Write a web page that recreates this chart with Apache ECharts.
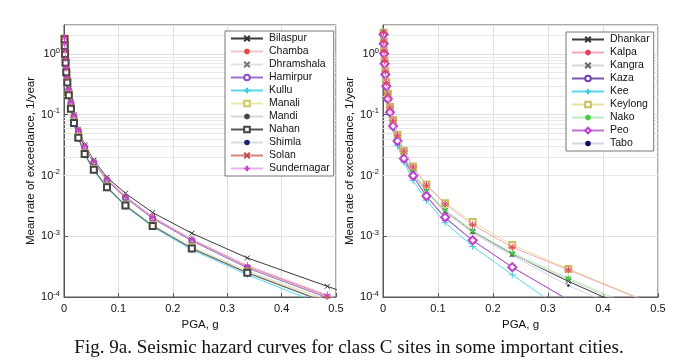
<!DOCTYPE html>
<html>
<head>
<meta charset="utf-8">
<script src="https://cdn.jsdelivr.net/npm/echarts@6/dist/echarts.min.js"></script>
<style>
html,body{margin:0;padding:0;background:#fff;}
#c{width:690px;height:361px;}
</style>
</head>
<body>
<div id="c"></div>
<script>
// PGA values (g) at which the hazard curves are evaluated
const pga = [0.001, 0.0014, 0.002, 0.0029, 0.0042, 0.0061, 0.0088, 0.0127, 0.0183, 0.0264, 0.038, 0.0548, 0.079, 0.113, 0.163, 0.235, 0.337, 0.484, 0.698];

// Left panel
const bilaspur    = [1.9, 1.5, 1.15, 0.85, 0.6, 0.42, 0.27, 0.165, 0.10, 0.058, 0.032, 0.0178, 0.0093, 0.0051, 0.00245, 0.00112, 0.00044, 0.00015, 0.000032];
const chamba      = [1.82, 1.45, 1.1, 0.82, 0.57, 0.40, 0.255, 0.157, 0.094, 0.054, 0.030, 0.0166, 0.0085, 0.0044, 0.002, 0.00086, 0.00031, 0.0001, 0.000017];
const dhramshala  = [1.77, 1.37, 1.01, 0.73, 0.505, 0.345, 0.213, 0.127, 0.074, 0.0428, 0.023, 0.0127, 0.0066, 0.0033, 0.00155, 0.00067, 0.00027, 0.00009, 0.000017];
const hamirpur    = [1.8, 1.44, 1.09, 0.8, 0.56, 0.39, 0.25, 0.154, 0.092, 0.053, 0.029, 0.0162, 0.0083, 0.0043, 0.00195, 0.00084, 0.0003, 0.000097, 0.000016];
const kullu       = [1.72, 1.33, 0.98, 0.7, 0.49, 0.33, 0.205, 0.122, 0.071, 0.041, 0.0218, 0.012, 0.0062, 0.0031, 0.00143, 0.0006, 0.000232, 0.00007, 0.000012];
const manali      = [1.78, 1.38, 1.02, 0.74, 0.51, 0.35, 0.215, 0.128, 0.075, 0.043, 0.023, 0.0128, 0.0066, 0.0033, 0.00152, 0.00066, 0.00026, 0.000088, 0.000016];
const mandi       = [1.76, 1.36, 1.01, 0.73, 0.5, 0.34, 0.212, 0.126, 0.074, 0.0425, 0.0228, 0.0126, 0.0065, 0.00325, 0.0015, 0.00064, 0.000255, 0.000082, 0.000015];
const nahan       = [1.75, 1.35, 1.0, 0.72, 0.5, 0.34, 0.21, 0.125, 0.073, 0.042, 0.0225, 0.0124, 0.0064, 0.0032, 0.00148, 0.00063, 0.00025, 0.00008, 0.000014];
const shimla      = [1.74, 1.34, 0.99, 0.71, 0.495, 0.335, 0.208, 0.124, 0.072, 0.0415, 0.0222, 0.0122, 0.0063, 0.00315, 0.00146, 0.00062, 0.000245, 0.000078, 0.000013];
const solan       = [1.85, 1.47, 1.12, 0.83, 0.58, 0.40, 0.26, 0.16, 0.096, 0.055, 0.0305, 0.0168, 0.0086, 0.0045, 0.00205, 0.00088, 0.00032, 0.000104, 0.000018];
const sundernagar = [1.85, 1.48, 1.13, 0.84, 0.59, 0.41, 0.265, 0.162, 0.098, 0.056, 0.031, 0.0172, 0.0088, 0.0046, 0.0021, 0.0009, 0.00033, 0.000108, 0.000019];

// Right panel
const dhankar = [2.15, 1.52, 1.06, 0.73, 0.48, 0.31, 0.198, 0.12, 0.071, 0.04, 0.0205, 0.0113, 0.0055, 0.0026, 0.0012, 0.00051, 0.000181, 0.000046, 0.000006];
const kalpa   = [2.25, 1.6, 1.12, 0.78, 0.52, 0.34, 0.22, 0.133, 0.081, 0.046, 0.0252, 0.0138, 0.0069, 0.0034, 0.00154, 0.00066, 0.00028, 0.00008, 0.000012];
const kangra  = [2.15, 1.5, 1.05, 0.72, 0.48, 0.31, 0.197, 0.119, 0.07, 0.04, 0.0203, 0.0112, 0.0054, 0.0026, 0.00118, 0.0005, 0.000195, 0.00005, 0.000007];
const kaza    = [2.05, 1.45, 1.0, 0.68, 0.45, 0.29, 0.18, 0.108, 0.064, 0.036, 0.0185, 0.0097, 0.0045, 0.002, 0.00085, 0.00031, 0.000089, 0.000015, 0.0000015];
const kee     = [1.95, 1.38, 0.95, 0.64, 0.42, 0.27, 0.168, 0.1, 0.059, 0.031, 0.0166, 0.0083, 0.0039, 0.00167, 0.00068, 0.000232, 0.000053, 0.000006, 0.0000004];
const keylong = [2.25, 1.6, 1.13, 0.79, 0.53, 0.345, 0.222, 0.135, 0.082, 0.047, 0.0256, 0.0141, 0.0071, 0.0035, 0.00172, 0.00072, 0.00029, 0.000082, 0.000012];
const nako    = [2.15, 1.52, 1.06, 0.73, 0.48, 0.31, 0.2, 0.12, 0.072, 0.041, 0.021, 0.0115, 0.0056, 0.0027, 0.00124, 0.00053, 0.000204, 0.000054, 0.000008];
const peo     = [2.1, 1.48, 1.02, 0.69, 0.46, 0.295, 0.183, 0.11, 0.065, 0.037, 0.019, 0.0099, 0.0046, 0.00205, 0.00086, 0.00031, 0.00009, 0.000016, 0.0000016];
const tabo    = [2.1, 1.5, 1.04, 0.71, 0.47, 0.3, 0.193, 0.116, 0.068, 0.039, 0.0198, 0.0108, 0.0052, 0.0025, 0.00113, 0.00048, 0.000154, 0.000042, 0.000006];

const xTicks = [0, 0.1, 0.2, 0.3, 0.4, 0.5];
const minorGridY = [2e-4,3e-4,4e-4,5e-4,6e-4,7e-4,8e-4,9e-4,2e-3,3e-3,4e-3,5e-3,6e-3,7e-3,8e-3,9e-3,2e-2,3e-2,4e-2,5e-2,6e-2,7e-2,8e-2,9e-2,0.2,0.3,0.4,0.5,0.6,0.7,0.8,0.9,2];

const leftNames = ['Bilaspur','Chamba','Dhramshala','Hamirpur','Kullu','Manali','Mandi','Nahan','Shimla','Solan','Sundernagar'];
const rightNames = ['Dhankar','Kalpa','Kangra','Kaza','Kee','Keylong','Nako','Peo','Tabo'];

const SYM_X = 'path://M0,0L10,10M10,0L0,10';
const SYM_PLUS = 'path://M5,0L5,10M0,5L10,5';
const SYM_STAR = 'path://M5,0L5,10M0,5L10,5M1.5,1.5L8.5,8.5M8.5,1.5L1.5,8.5';

const FONT = 'Liberation Sans, Arial, sans-serif';

function mk(name, vals, gi, lineColor, markColor, symbol, size, z) {
  const stroke = symbol.indexOf('path://') === 0;
  return {
    name: name,
    type: 'line',
    xAxisIndex: gi, yAxisIndex: gi,
    data: pga.map((x, i) => [x, vals[i]]),
    symbol: symbol,
    symbolSize: size,
    showAllSymbol: true,
    lineStyle: {color: lineColor, width: 1},
    itemStyle: stroke ? {color: markColor, borderColor: markColor, borderWidth: 1}
                      : {color: markColor, borderWidth: 1},
    emphasis: {disabled: true},
    animation: false,
    z: z || 3
  };
}

const series = [
  mk('Bilaspur', bilaspur, 0, '#3a3a3a', '#333', SYM_X, 5),
  mk('Chamba', chamba, 0, '#f2c4c4', '#e04848', SYM_STAR, 6),
  mk('Dhramshala', dhramshala, 0, '#e2e2e2', '#777', SYM_X, 5),
  mk('Hamirpur', hamirpur, 0, '#9a70cc', '#8a50c0', 'emptyCircle', 5),
  mk('Kullu', kullu, 0, '#58d8e8', '#40cce0', SYM_PLUS, 7),
  mk('Manali', manali, 0, '#ece6a8', '#d0c860', 'emptyRect', 6),
  mk('Mandi', mandi, 0, '#d6d6d6', '#444', SYM_STAR, 6),
  mk('Nahan', nahan, 0, '#555', '#444', 'emptyRect', 6),
  mk('Shimla', shimla, 0, '#d8d8e6', '#202070', 'circle', 2.5, 2),
  mk('Solan', solan, 0, '#d88080', '#c04848', SYM_X, 5),
  mk('Sundernagar', sundernagar, 0, '#eab0ea', '#d040d0', SYM_PLUS, 7),

  mk('Dhankar', dhankar, 1, '#3a3a3a', '#333', SYM_X, 5),
  mk('Kalpa', kalpa, 1, '#f0a8b8', '#e04060', SYM_STAR, 7, 4),
  mk('Kangra', kangra, 1, '#d6d6d6', '#666', SYM_X, 5),
  mk('Kaza', kaza, 1, '#7858a8', '#7040b0', 'emptyCircle', 5),
  mk('Kee', kee, 1, '#58d8e8', '#40cce0', SYM_PLUS, 7),
  mk('Keylong', keylong, 1, '#e8e0a0', '#c8c060', 'emptyRect', 6),
  mk('Nako', nako, 1, '#b8ecb8', '#40d040', SYM_STAR, 6),
  mk('Peo', peo, 1, '#c070d8', '#c040d0', 'emptyDiamond', 8),
  mk('Tabo', tabo, 1, '#d4d4e4', '#101060', 'circle', 2.5, 2)
];

// minor grid lines (light) via markLine on a helper series per grid
[0, 1].forEach(gi => {
  series.push({
    type: 'line', xAxisIndex: gi, yAxisIndex: gi, data: [], silent: true, animation: false,
    markLine: {
      silent: true, symbol: 'none', animation: false, z: 1,
      label: {show: false},
      lineStyle: {color: '#e8e8e8', width: 1, type: 'solid'},
      emphasis: {disabled: true},
      data: minorGridY.map(v => ({yAxis: v}))
    }
  });
});

function yAxisCfg(gi) {
  return {
    type: 'log', gridIndex: gi, logBase: 10, min: 1e-4, max: 3,
    name: 'Mean rate of exceedance, 1/year',
    nameLocation: 'middle', nameGap: 25, nameRotate: 90,
    nameTextStyle: {fontFamily: FONT, fontSize: 11.5, color: '#111'},
    axisLine: {show: true, lineStyle: {color: '#555'}},
    axisTick: {show: true, inside: true, length: 4, lineStyle: {color: '#555'}},
    splitLine: {show: true, lineStyle: {color: '#e0e0e0', width: 1}},
    axisLabel: {
      margin: 4,
      showMaxLabel: false,
      formatter: v => {
        const l = Math.log10(v);
        const e = Math.round(l);
        if (Math.abs(l - e) > 1e-6) return '';
        return '{b|10}{s|' + e + '}';
      },
      rich: {
        b: {fontFamily: FONT, fontSize: 11, color: '#111'},
        s: {fontFamily: FONT, fontSize: 7.5, color: '#111', padding: [0, 0, 7, 0]}
      }
    }
  };
}
function xAxisCfg(gi) {
  return {
    type: 'value', gridIndex: gi, min: 0, max: 0.5, interval: 0.1,
    name: 'PGA, g', nameLocation: 'middle', nameGap: 19,
    nameTextStyle: {fontFamily: FONT, fontSize: 11.5, color: '#111'},
    axisLine: {show: true, lineStyle: {color: '#555'}},
    axisTick: {show: true, inside: true, length: 4, lineStyle: {color: '#555'}},
    splitLine: {show: true, lineStyle: {color: '#e0e0e0', width: 1}},
    axisLabel: {
      margin: 6, fontFamily: FONT, fontSize: 11, color: '#111',
      formatter: v => {
        const t = xTicks.find(t => Math.abs(t - v) < 1e-9);
        return t === undefined ? '' : String(t);
      }
    }
  };
}

function legendCfg(names, left, top) {
  return {
    data: names, orient: 'vertical', left: left, top: top,
    backgroundColor: '#fff', borderColor: '#777', borderWidth: 1, borderRadius: 0,
    padding: [2, 4, 2, 5],
    itemWidth: 32, itemHeight: 7, itemGap: 2,
    selectedMode: false,
    textStyle: {fontFamily: FONT, fontSize: 10.5, color: '#111', padding: [0, 0, 0, 1]}
  };
}

const chart = echarts.init(document.getElementById('c'), null, {renderer: 'canvas'});
chart.setOption({
  backgroundColor: '#fff',
  animation: false,
  grid: [
    {left: 64, top: 25, width: 272, height: 272, show: true, borderColor: '#555', borderWidth: 1, backgroundColor: 'transparent'},
    {left: 383, top: 25, width: 275, height: 272, show: true, borderColor: '#555', borderWidth: 1, backgroundColor: 'transparent'}
  ],
  xAxis: [xAxisCfg(0), xAxisCfg(1)],
  yAxis: [yAxisCfg(0), yAxisCfg(1)],
  legend: [legendCfg(leftNames, 225, 31), legendCfg(rightNames, 566, 32)],
  series: series,
  graphic: [{
    type: 'text', x: 349, y: 339,
    style: {
      text: 'Fig. 9a. Seismic hazard curves for class C sites in some important cities.',
      align: 'center', verticalAlign: 'top',
      fontFamily: 'Liberation Serif, Times New Roman, serif', fontSize: 19, fill: '#111'
    }
  }]
});
</script>
</body>
</html>
